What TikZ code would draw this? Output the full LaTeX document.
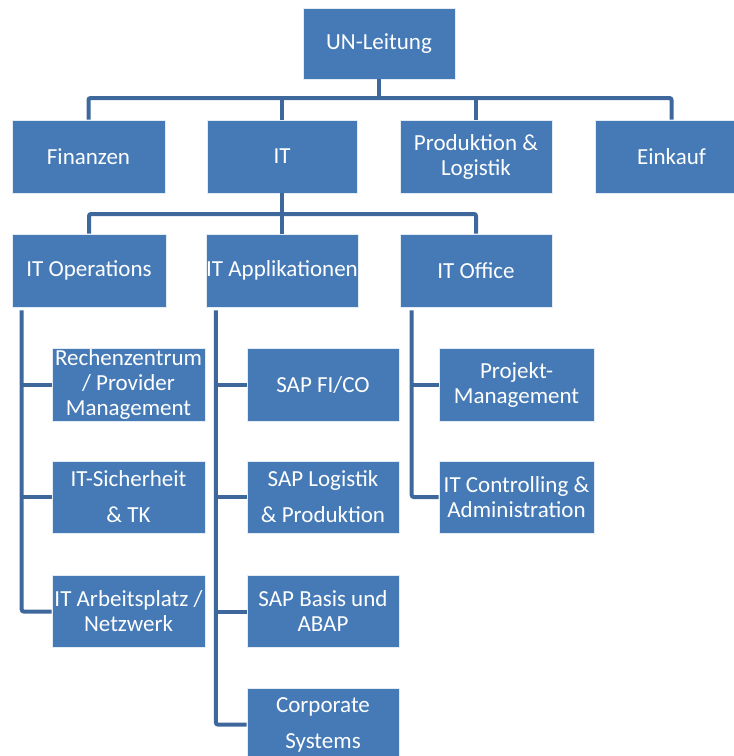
\documentclass[tikz,border=0pt]{standalone}
\usepackage{fontspec}
\setmainfont{Carlito}
\definecolor{boxfill}{RGB}{69,122,182}
\definecolor{linecol}{RGB}{62,104,156}
\begin{document}
\begin{tikzpicture}[x=1bp,y=-1bp,
  unit/.style={rectangle, fill=boxfill, draw=white!85!boxfill, line width=0.6bp,
    text=white, inner sep=0pt, align=center,
    font=\fontsize{23bp}{25bp}\selectfont},
  conn/.style={draw=linecol, line width=4bp, rounded corners=2bp}]
\useasboundingbox (0,0) rectangle (734,756);
\clip (0,0) rectangle (734,756);

% top level
\node[unit, minimum width=152bp, minimum height=71bp] (un) at (379,43.5) {UN-Leitung};

% second level
\node[unit, minimum width=153bp, minimum height=73bp] (fin)  at (88.5,156.5) {Finanzen};
\node[unit, minimum width=150bp, minimum height=73bp] (it)   at (282,156.5) {IT};
\node[unit, minimum width=152bp, minimum height=73bp] (prod) at (476,156.5) {Produktion \&\\Logistik};
\node[unit, minimum width=153bp, minimum height=73bp] (ein)  at (671.5,156.5) {Einkauf};

% third level
\node[unit, minimum width=154bp, minimum height=73bp] (ops) at (89,270.5) {IT Operations};
\node[unit, minimum width=150bp, minimum height=73bp] (app) at (282,270.5) {IT Applikationen};
\node[unit, minimum width=152bp, minimum height=73bp] (off) at (476,270.5) {IT Office};

% IT Operations units
\node[unit, minimum width=153bp, minimum height=73bp] (rz) at (128.5,384.5) {Rechenzentrum\\/ Provider\\Management};
\node[unit, minimum width=153bp, minimum height=72bp] (si) at (128.5,497) {IT-Sicherheit\\[11bp]\& TK};
\node[unit, minimum width=153bp, minimum height=72bp] (ap) at (128.5,611.5) {IT Arbeitsplatz /\\Netzwerk};

% IT Applikationen units
\node[unit, minimum width=152bp, minimum height=73bp] (fico) at (323,384.5) {SAP FI/CO};
\node[unit, minimum width=152bp, minimum height=72bp] (log)  at (323,497) {SAP Logistik\\[11bp]\& Produktion};
\node[unit, minimum width=152bp, minimum height=72bp] (basis) at (323,611.5) {SAP Basis und\\ABAP};
\node[unit, minimum width=152bp, minimum height=72bp] (corp) at (323,724.5) {Corporate\\[11bp]Systems};

% IT Office units
\node[unit, minimum width=155bp, minimum height=73bp] (pm)   at (516.5,384.5) {Projekt-\\Management};
\node[unit, minimum width=155bp, minimum height=72bp] (ctrl) at (516.5,497) {IT Controlling \&\\Administration};

% connectors: top level to second level
\coordinate (bus1) at (379,98);
\draw[conn] (un.south) -- (bus1);
\draw[conn] (fin.north) |- (bus1) -| (ein.north);
\draw[conn] (it.north) -- (it.north |- bus1);
\draw[conn] (prod.north) -- (prod.north |- bus1);

% connectors: IT to third level
\coordinate (bus2) at (282,214);
\draw[conn] (it.south) -- (bus2);
\draw[conn] (ops.north) |- (bus2) -| (off.north);
\draw[conn] (app.north) -- (app.north |- bus2);

% side rails
\coordinate (opsL) at ([xshift=10bp,yshift=-3bp]ops.south west);
\coordinate (appL) at ([xshift=10bp,yshift=-3bp]app.south west);
\coordinate (offL) at ([xshift=12bp,yshift=-3bp]off.south west);

\draw[conn] (opsL) |- (ap.west);
\draw[conn] (rz.west) -- (rz.west -| opsL);
\draw[conn] (si.west) -- (si.west -| opsL);

\draw[conn] (appL) |- (corp.west);
\draw[conn] (fico.west) -- (fico.west -| appL);
\draw[conn] (log.west) -- (log.west -| appL);
\draw[conn] (basis.west) -- (basis.west -| appL);

\draw[conn] (offL) |- (ctrl.west);
\draw[conn] (pm.west) -- (pm.west -| offL);
\end{tikzpicture}
\end{document}
